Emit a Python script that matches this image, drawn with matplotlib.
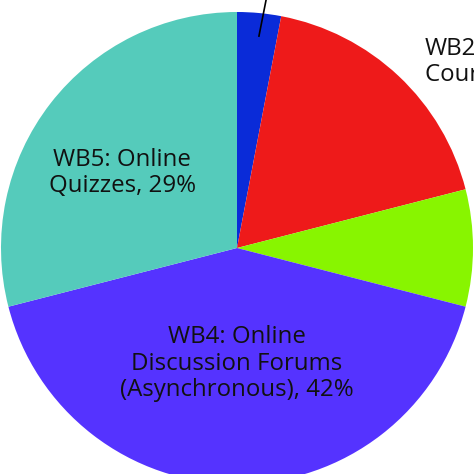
import matplotlib
matplotlib.use("Agg")
import matplotlib.pyplot as plt

categories = ["WB1", "WB2", "WB3", "WB4", "WB5"]
values = [3, 18, 8, 42, 29]
colors = ["#0A2BD8", "#EE1A1A", "#88F500", "#5533FF", "#55CBBB"]
label_wb5 = "WB5: Online\nQuizzes, 29%"
label_wb4 = "WB4: Online\nDiscussion Forums\n(Asynchronous), 42%"
label_wb2 = "WB2:\nCourse Materials, 18%"

W, H = 474, 474
fig = plt.figure(figsize=(W / 100, H / 100), dpi=100)
cx, cy, r = 237, 248, 236
ax = fig.add_axes([(cx - r) / W, (H - cy - r) / H, 2 * r / W, 2 * r / H])
ax.pie(values, colors=colors, startangle=90, counterclock=False,
       wedgeprops=dict(linewidth=0))
ax.set_xlim(-1, 1)
ax.set_ylim(-1, 1)
ax.set_aspect("auto")
ax.axis("off")

font = "Open Sans"
fs = 17.3
ax.text(-0.487, 0.318, label_wb5, ha="center", va="center", fontsize=fs,
        family=font, color="#111111", linespacing=1.12)
ax.text(0.0, -0.49, label_wb4, ha="center", va="center", fontsize=fs,
        family=font, color="#111111", linespacing=1.12)
ax.text(0.797, 0.788, label_wb2, ha="left", va="center", fontsize=fs,
        family=font, color="#111111", linespacing=1.12, clip_on=False)
ax.plot([0.093, 0.123], [0.898, 1.05], color="black", lw=1.2, clip_on=False)

fig.savefig("out.png", dpi=100)
